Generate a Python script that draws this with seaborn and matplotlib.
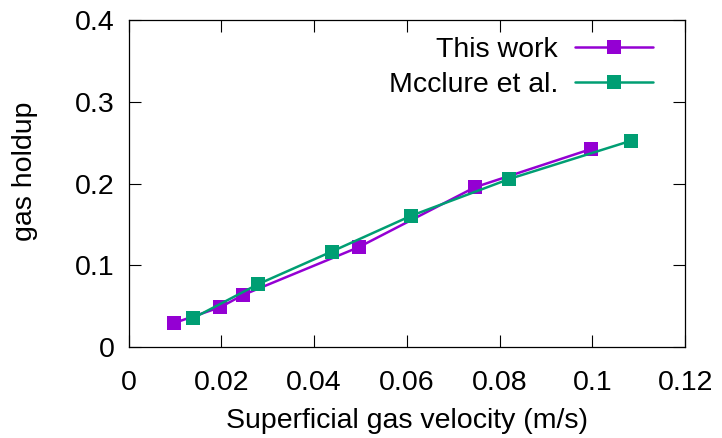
import matplotlib
matplotlib.use("Agg")
import matplotlib.pyplot as plt
import seaborn as sns
import pandas as pd

# Data
this_x = [0.0097, 0.0198, 0.0247, 0.0496, 0.0747, 0.0996]
this_y = [0.029, 0.0486, 0.0636, 0.122, 0.1955, 0.242]
mc_x = [0.0139, 0.0279, 0.0438, 0.0610, 0.0821, 0.1084]
mc_y = [0.0351, 0.0767, 0.1167, 0.1607, 0.2056, 0.2525]
labels = ["This work", "Mcclure et al."]
colors = ["#9400D3", "#009E73"]
xticks = [0, 0.02, 0.04, 0.06, 0.08, 0.1, 0.12]
xticklabels = ["0", "0.02", "0.04", "0.06", "0.08", "0.1", "0.12"]
yticks = [0, 0.1, 0.2, 0.3, 0.4]
yticklabels = ["0", "0.1", "0.2", "0.3", "0.4"]

df = pd.concat([
    pd.DataFrame({"x": this_x, "y": this_y, "src": labels[0]}),
    pd.DataFrame({"x": mc_x, "y": mc_y, "src": labels[1]}),
])

sns.set_theme(style="ticks")
plt.rcParams["font.family"] = ["Liberation Sans", "DejaVu Sans"]
plt.rcParams["text.color"] = "black"
plt.rcParams["axes.labelcolor"] = "black"
FS = 20.5

fig = plt.figure(figsize=(7.22, 4.38), dpi=100)
ax = fig.add_axes([0.178, 0.208, 0.771, 0.746])

sns.lineplot(data=df, x="x", y="y", hue="src", palette=colors, sort=False,
             marker="s", markersize=10, markeredgewidth=0, linewidth=1.8,
             estimator=None, ax=ax)

ax.set_xlim(0, 0.12)
ax.set_ylim(0, 0.4)
ax.set_xticks(xticks)
ax.set_xticklabels(xticklabels)
ax.set_yticks(yticks)
ax.set_yticklabels(yticklabels)
ax.tick_params(direction="in", length=8.6, width=0.8, top=True, right=True,
               labelsize=FS, colors="black")
ax.tick_params(axis="x", pad=16.5)
ax.tick_params(axis="y", pad=10)
for s in ax.spines.values():
    s.set_visible(True)
    s.set_color("black")
    s.set_linewidth(0.9)

ax.set_xlabel("Superficial gas velocity (m/s)", fontsize=FS, labelpad=9, color="black")
ax.set_ylabel("gas holdup", fontsize=FS, labelpad=26.5, color="black")
ax.yaxis.label.set_y(0.538)

leg = ax.legend(loc="upper right", bbox_to_anchor=(0.942, 0.949), frameon=False,
                markerfirst=False, fontsize=FS, handlelength=2.73,
                handletextpad=0.6, labelspacing=0.31, borderpad=0,
                borderaxespad=0, title=None, labelcolor="black")

fig.savefig("out.png", dpi=100)
